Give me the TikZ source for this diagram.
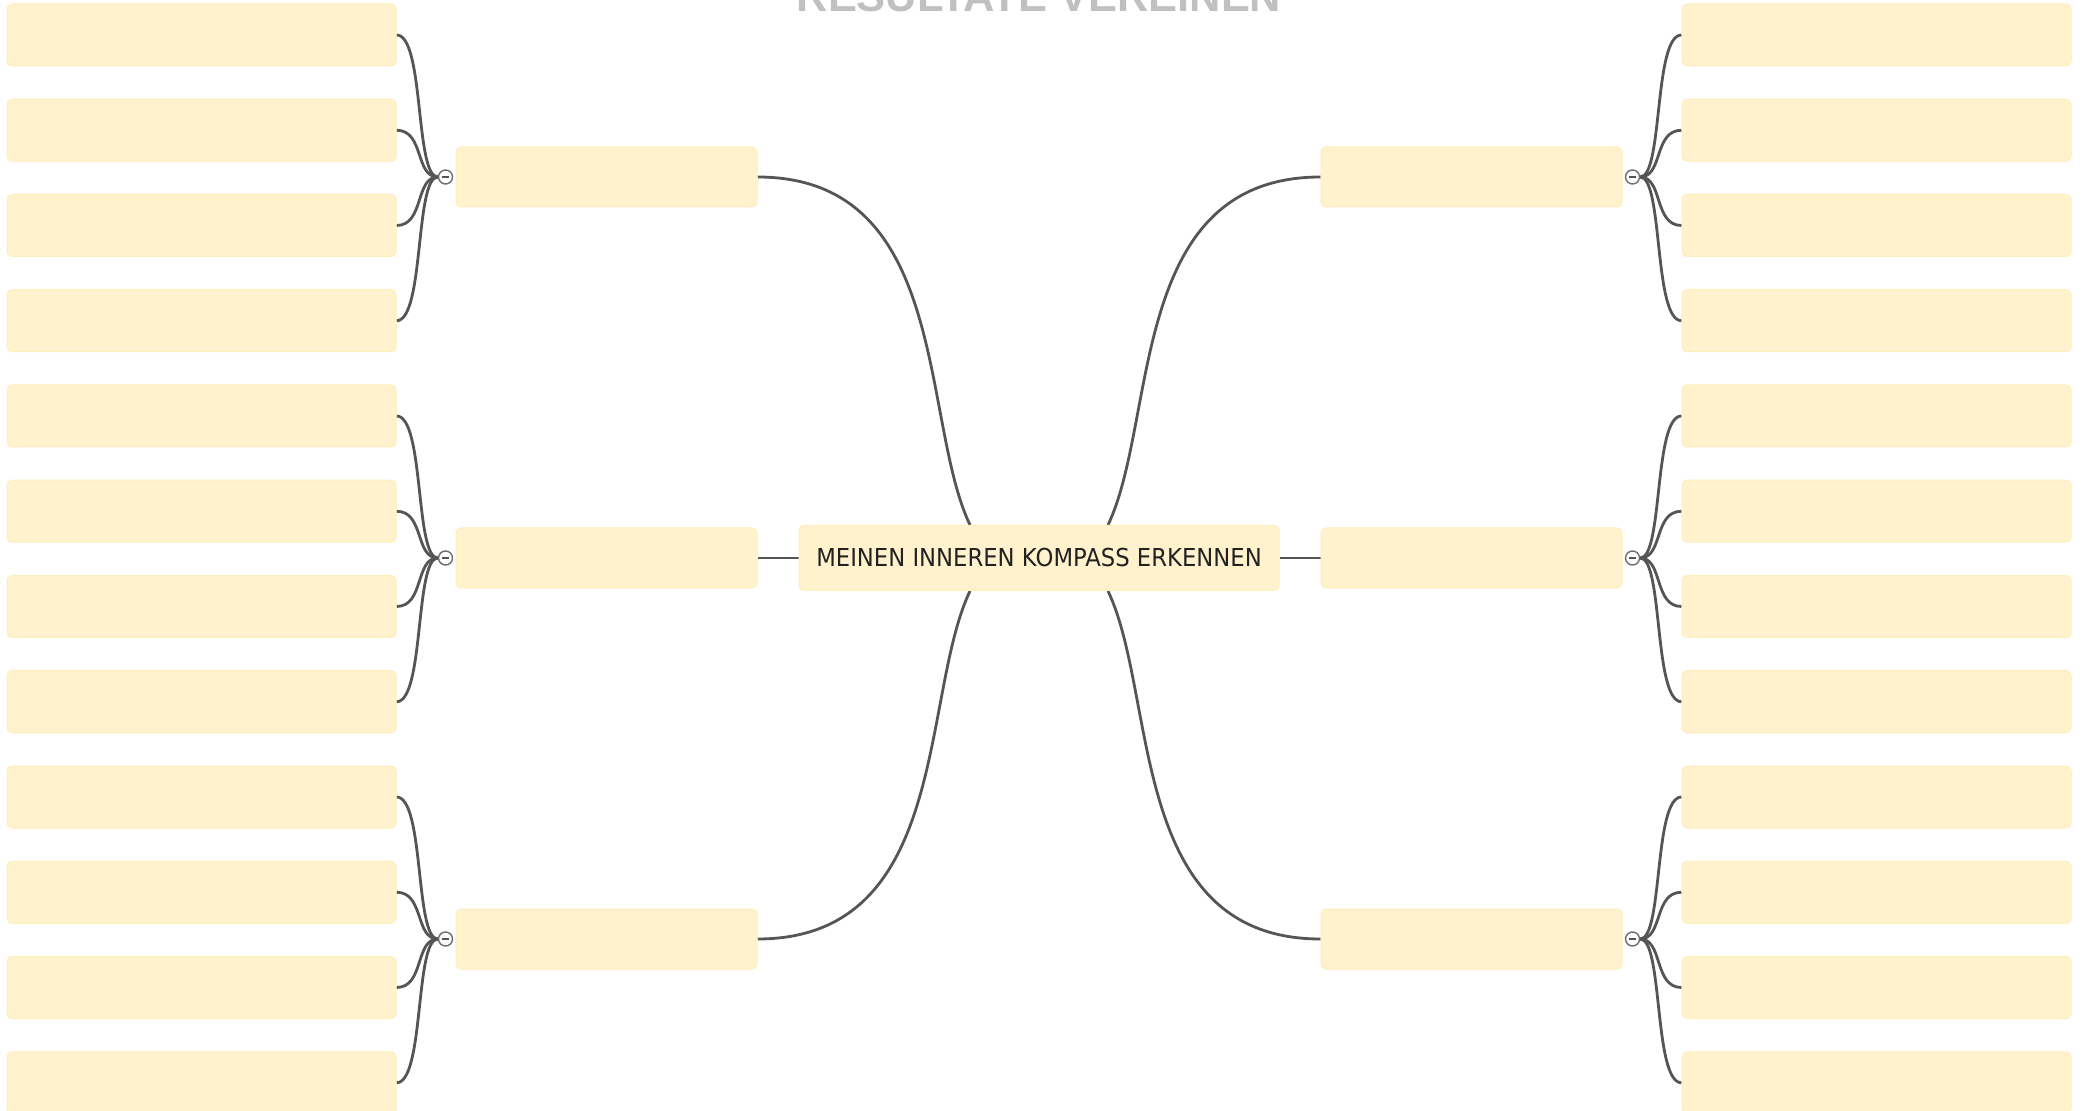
\documentclass[tikz,border=0pt]{standalone}
\usepackage{fontspec}
\setmainfont{DejaVu Sans}
\newfontfamily\titlefont{Liberation Sans}
\usetikzlibrary{backgrounds}
\definecolor{boxfill}{HTML}{FFF2CC}
\definecolor{boxline}{HTML}{FFEDBC}
\definecolor{connc}{HTML}{555555}
\definecolor{titlegrey}{HTML}{C0C0C0}
\definecolor{textc}{HTML}{222222}
\begin{document}
\begin{tikzpicture}[x=0.5pt,y=-0.5pt,
  box/.style={fill=boxfill,draw=boxline,line width=0.5pt,rounded corners=2.5pt,inner sep=0pt},
  leaf/.style={box,minimum width=194.5pt,minimum height=31pt},
  midbox/.style={box,minimum width=150.5pt,minimum height=30pt},
  conn/.style={draw=connc,line width=1.4pt},
  toggle/.style={circle,draw=connc!85,fill=white,line width=0.7pt,minimum size=7pt,inner sep=0pt,
    path picture={\draw[connc,line width=0.7pt] ([xshift=-1.8pt]path picture bounding box.center) -- ([xshift=1.8pt]path picture bounding box.center);}}]
\useasboundingbox (0,0) rectangle (2082,1111);

% title (cut off at top)
\node[anchor=base,text=titlegrey,font=\titlefont\bfseries\fontsize{21.7pt}{24pt}\selectfont] (title) at (1039,12) {RESULTATE VEREINEN};

% central node
\node[box,minimum width=240pt,minimum height=32.5pt,text=textc,font=\fontsize{12.35pt}{14pt}\selectfont] (c) at (1039,558) {\scalebox{0.92}[1]{MEINEN INNEREN KOMPASS ERKENNEN}};

% middle boxes and toggles
\foreach \g/\y in {1/177,2/558,3/939} {
  \node[midbox] (ml\g) at (606.5,\y) {};
  \node[midbox] (mr\g) at (1471.5,\y) {};
  \node[toggle] (tl\g) at ([xshift=-5pt]ml\g.west) {};
  \node[toggle] (tr\g) at ([xshift=5pt]mr\g.east) {};
}

% leaves
\foreach \i in {0,...,11} {
  \node[leaf] (L\i) at (201.5,{35+95.25*\i}) {};
  \node[leaf] (R\i) at (1876.5,{35+95.25*\i}) {};
}

\begin{pgfonlayer}{background}
  \fill[white] (0,0) rectangle (2082,1111);
  % central connectors
  \draw[conn] (ml1.east) .. controls +(193,0) and +(-50,-105) .. ([xshift=-34.5pt]c.north);
  \draw[conn] (mr1.west) .. controls +(-193,0) and +(50,-105) .. ([xshift=34.5pt]c.north);
  \draw[conn] (ml3.east) .. controls +(193,0) and +(-50,105) .. ([xshift=-34.5pt]c.south);
  \draw[conn] (mr3.west) .. controls +(-193,0) and +(50,105) .. ([xshift=34.5pt]c.south);
  \draw[conn] (ml2.east) -- (c.west);
  \draw[conn] (c.east) -- (mr2.west);
  % leaf connectors
  \foreach \g in {1,2,3} {
    \foreach \k in {0,...,3} {
      \pgfmathtruncatemacro\i{(\g-1)*4+\k}
      \draw[conn] (tl\g.west) .. controls +(-23,0) and +(28,0) .. (L\i.east);
      \draw[conn] (tr\g.east) .. controls +(23,0) and +(-28,0) .. (R\i.west);
    }
  }
\end{pgfonlayer}
\end{tikzpicture}
\end{document}
